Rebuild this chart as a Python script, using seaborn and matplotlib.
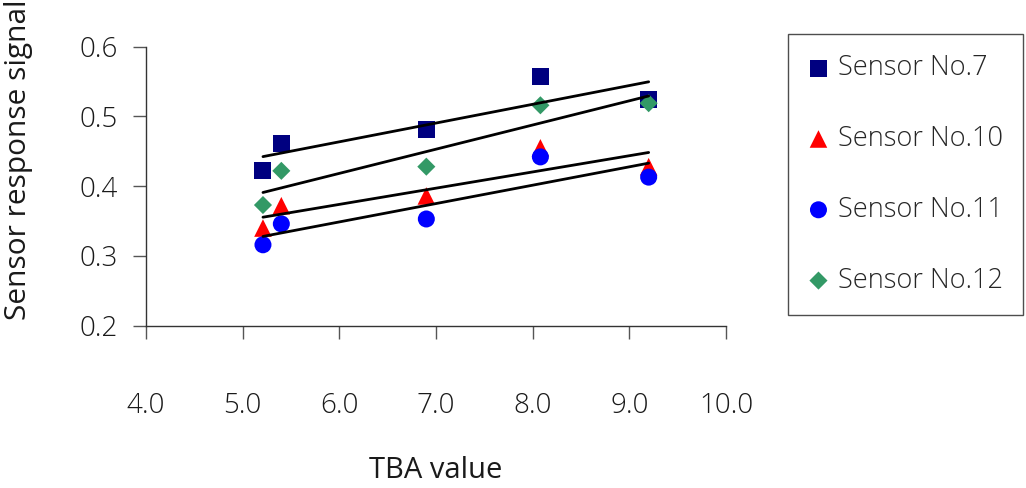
import matplotlib
matplotlib.use("Agg")
import matplotlib.pyplot as plt
import seaborn as sns
import pandas as pd

# TBA values shared by all sensors
tba = [5.21, 5.40, 6.90, 8.08, 9.20]

# Sensor responses
sensor_7 = [0.423, 0.461, 0.481, 0.557, 0.525]
sensor_10 = [0.340, 0.372, 0.386, 0.455, 0.428]
sensor_11 = [0.316, 0.346, 0.353, 0.442, 0.413]
sensor_12 = [0.373, 0.422, 0.428, 0.516, 0.519]

sensor_names = ["Sensor No.7", "Sensor No.10", "Sensor No.11", "Sensor No.12"]
x_ticks = [4.0, 5.0, 6.0, 7.0, 8.0, 9.0, 10.0]
y_ticks = [0.2, 0.3, 0.4, 0.5, 0.6]

sns.set_theme(style="white")
plt.rcParams["font.family"] = ["Open Sans", "DejaVu Sans"]
plt.rcParams["font.weight"] = "light"

styles = {
    "Sensor No.7": dict(marker="s", color="#000080", s=150),
    "Sensor No.10": dict(marker="^", color="#FF0000", s=160),
    "Sensor No.11": dict(marker="o", color="#0000FF", s=150),
    "Sensor No.12": dict(marker="D", color="#339966", s=85),
}

df = pd.DataFrame({
    "TBA value": tba * 4,
    "signal": sensor_7 + sensor_10 + sensor_11 + sensor_12,
    "sensor": sum([[n] * len(tba) for n in sensor_names], []),
})

fig = plt.figure(figsize=(10.26, 4.88), dpi=100)
ax = fig.add_axes([0.1423, 0.3326, 0.5653, 0.5717])

# markers first, fitted trend lines on top
for name in sensor_names:
    sub = df[df["sensor"] == name]
    st = styles[name]
    sns.scatterplot(data=sub, x="TBA value", y="signal", ax=ax,
                    marker=st["marker"], color=st["color"], s=st["s"],
                    edgecolor="none", linewidth=0, label=name, zorder=2)
for name in sensor_names:
    sub = df[df["sensor"] == name]
    sns.regplot(data=sub, x="TBA value", y="signal", ax=ax, scatter=False,
                ci=None, truncate=True, color="black",
                line_kws=dict(linewidth=2.0, zorder=3))

ax.set_xlim(4.0, 10.0)
ax.set_ylim(0.2, 0.6)
ax.set_xticks(x_ticks)
ax.set_xticklabels([f"{v:.1f}" for v in x_ticks])
ax.set_yticks(y_ticks)
ax.set_yticklabels([f"{v:.1f}" for v in y_ticks])

for side in ["top", "right"]:
    ax.spines[side].set_visible(False)
for side in ["left", "bottom"]:
    ax.spines[side].set_color("#333333")
    ax.spines[side].set_linewidth(1.0)

ax.tick_params(axis="x", direction="out", length=9.5, width=1.0,
               color="#555555", pad=38, labelsize=20, labelcolor="#1a1a1a")
ax.tick_params(axis="y", direction="out", length=9.5, width=1.0,
               color="#555555", pad=11, labelsize=20, labelcolor="#1a1a1a")
ax.tick_params(bottom=True, left=True)

ax.set_xlabel("TBA value", fontsize=21, color="#1a1a1a")
ax.set_ylabel("Sensor response signal", fontsize=21.5, color="#1a1a1a")
ax.xaxis.set_label_coords(0.5, -0.468)
ax.yaxis.set_label_coords(-0.195, 0.594)

ax.get_legend().remove()
handles, labels = ax.get_legend_handles_labels()
leg = fig.legend(handles, labels, loc="upper left",
                 bbox_to_anchor=(788 / 1026, 1 - 34 / 488),
                 frameon=True, fancybox=False, fontsize=19.5,
                 labelspacing=1.58, handletextpad=0.35, borderpad=0.75,
                 handlelength=0.75, borderaxespad=0)
leg.get_frame().set_edgecolor("#222222")
leg.get_frame().set_linewidth(1.0)

fig.savefig("out.png", dpi=100)
